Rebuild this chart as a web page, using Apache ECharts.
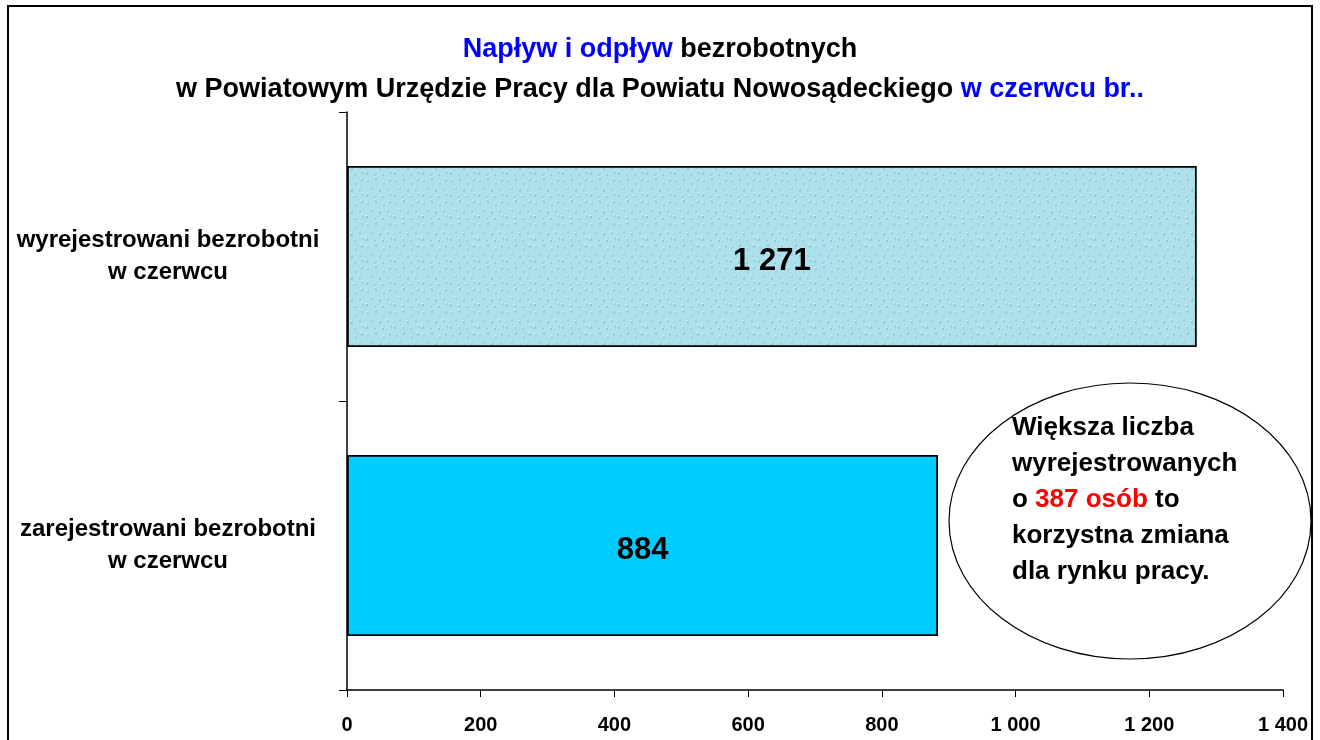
<!DOCTYPE html>
<html>
<head>
<meta charset="utf-8">
<script src="https://cdn.jsdelivr.net/npm/echarts@6/dist/echarts.min.js"></script>
<style>
  html, body { margin: 0; padding: 0; background: #fff; }
  #chart { width: 1320px; height: 740px; }
</style>
</head>
<body>
<div id="chart"></div>
<script>
// dane z wykresu
var categories = ['zarejestrowani bezrobotni\nw czerwcu', 'wyrejestrowani bezrobotni\nw czerwcu'];
var values = [884, 1271];
var xTicks = [0, 200, 400, 600, 800, 1000, 1200, 1400];
var noteLines = ['Większa liczba', 'wyrejestrowanych', 'o {r|387 osób} to', 'korzystna zmiana', 'dla rynku pracy.'];

// liczby ze spacja jako separatorem tysiecy
function fmt(v) {
  return String(v).replace(/\B(?=(\d{3})+(?!\d))/g, ' ');
}

// tekstura "krople wody" dla gornego slupka
function makeTexture() {
  var c = document.createElement('canvas');
  c.width = 28; c.height = 22;
  var ctx = c.getContext('2d');
  ctx.fillStyle = '#ade0ea';
  ctx.fillRect(0, 0, 28, 22);
  var drops = [[3,4],[11,2],[19,6],[25,3],[7,11],[15,13],[23,12],[2,18],[10,19],[18,20],[26,17]];
  drops.forEach(function (d, i) {
    ctx.fillStyle = i % 2 ? '#8ccfdc' : '#98d5e1';
    ctx.fillRect(d[0], d[1], 2, 3);
    ctx.fillStyle = '#cdeef4';
    ctx.fillRect(d[0] - 1, d[1] - 1, 2, 1);
  });
  return c;
}

var chart = echarts.init(document.getElementById('chart'));

var option = {
  backgroundColor: '#fff',
  animation: false,
  title: {
    left: 'center',
    top: 25,
    textStyle: {
      fontFamily: 'Liberation Sans',
      fontSize: 27,
      fontWeight: 'bold',
      lineHeight: 40,
      color: '#000',
      rich: {
        b: { color: '#0000ff', fontFamily: 'Liberation Sans', fontSize: 27, fontWeight: 'bold', lineHeight: 40 },
        k: { color: '#000', fontFamily: 'Liberation Sans', fontSize: 27, fontWeight: 'bold', lineHeight: 40 }
      }
    },
    text: '{b|Napływ i odpływ} {k|bezrobotnych}\n{k|w Powiatowym Urzędzie Pracy dla Powiatu Nowosądeckiego} {b|w czerwcu br..}'
  },
  grid: { left: 347, right: 37, top: 112, bottom: 50 },
  xAxis: {
    type: 'value',
    min: 0,
    max: 1400,
    interval: 200,
    splitLine: { show: false },
    axisLine: { show: true, lineStyle: { color: '#000', width: 1.5 } },
    axisTick: { show: true, length: 7, lineStyle: { color: '#000' } },
    axisLabel: {
      margin: 25,
      fontFamily: 'Liberation Sans',
      fontSize: 20,
      fontWeight: 'bold',
      color: '#000',
      formatter: function (v) { return xTicks.indexOf(v) >= 0 ? fmt(v) : ''; }
    }
  },
  yAxis: {
    type: 'category',
    data: categories,
    axisLine: { show: true, lineStyle: { color: '#000', width: 1.5 } },
    axisTick: { show: true, length: 8, lineStyle: { color: '#000' } },
    axisLabel: {
      margin: 179,
      align: 'center',
      fontFamily: 'Liberation Sans',
      fontSize: 24,
      fontWeight: 'bold',
      color: '#000',
      lineHeight: 32,
      padding: [4, 0, 0, 0]
    }
  },
  series: [{
    type: 'bar',
    barWidth: '62.6%',
    data: [
      { value: values[0], itemStyle: { color: '#00ccff' } },
      { value: values[1], itemStyle: { color: { image: makeTexture(), repeat: 'repeat' } } }
    ],
    itemStyle: { borderColor: '#000', borderWidth: 1.8 },
    label: {
      show: true,
      position: 'inside',
      offset: [0, 5],
      fontFamily: 'Liberation Sans',
      fontSize: 31,
      fontWeight: 'bold',
      color: '#000',
      formatter: function (p) { return fmt(p.value); }
    }
  }],
  graphic: [
    {
      type: 'rect',
      shape: { x: 8, y: 6, width: 1304, height: 760 },
      style: { fill: 'none', stroke: '#000', lineWidth: 2 },
      silent: true
    },
    {
      type: 'ellipse',
      shape: { cx: 1130, cy: 521, rx: 181, ry: 138 },
      style: { fill: '#fff', stroke: '#000', lineWidth: 1.2 },
      z: 10
    },
    {
      type: 'text',
      left: 1012,
      top: 410,
      z: 11,
      style: {
        text: noteLines.join('\n'),
        font: 'bold 26px "Liberation Sans"',
        fill: '#000',
        lineHeight: 36,
        rich: {
          r: { fill: '#ff0000', font: 'bold 26px "Liberation Sans"', lineHeight: 36 }
        }
      }
    }
  ]
};

chart.setOption(option);
</script>
</body>
</html>
